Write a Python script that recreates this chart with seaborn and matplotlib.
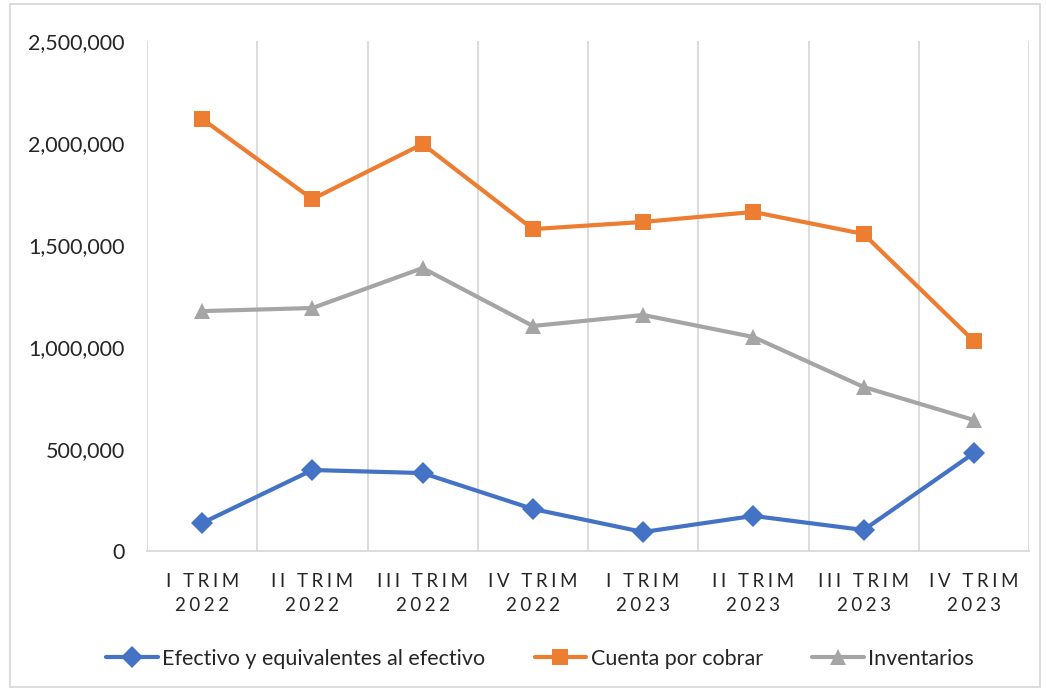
import numpy as np
import pandas as pd
import matplotlib
matplotlib.use("Agg")
import matplotlib.pyplot as plt
import seaborn as sns
from matplotlib.ticker import FuncFormatter

categories = ["I TRIM\n2022", "II TRIM\n2022", "III TRIM\n2022", "IV TRIM\n2022",
              "I TRIM\n2023", "II TRIM\n2023", "III TRIM\n2023", "IV TRIM\n2023"]
efectivo = [137000, 397000, 382000, 206000, 93000, 172000, 103000, 480000]
cuentas = [2118000, 1725000, 1995000, 1578000, 1613000, 1662000, 1554000, 1029000]
inventarios = [1176000, 1191000, 1387000, 1103000, 1157000, 1049000, 804000, 642000]
series_names = ["Efectivo y equivalentes al efectivo", "Cuenta por cobrar", "Inventarios"]
colors = ["#4472C4", "#ED7D31", "#A5A5A5"]
markers = ["D", "s", "^"]

sns.set_theme(style="white")
plt.rcParams['font.family'] = ['Lato', 'DejaVu Sans']

rows = []
for name, vals in zip(series_names, [efectivo, cuentas, inventarios]):
    for i, v in enumerate(vals):
        rows.append({"pos": i, "value": v, "serie": name})
df = pd.DataFrame(rows)

fig = plt.figure(figsize=(10.46, 6.91), dpi=100)
ax = fig.add_axes([147/1046, 1-551/691, (1029-147)/1046, (551-41)/691])

sns.lineplot(data=df, x="pos", y="value", hue="serie", style="serie",
             hue_order=series_names, style_order=series_names,
             palette=colors, markers=markers, dashes=False,
             linewidth=3, markersize=11, markeredgewidth=0, ax=ax, sort=False)

ax.set_xlim(-0.5, len(categories) - 0.5)
ax.set_ylim(0, 2500000)
ax.set_yticks(np.arange(0, 2500001, 500000))
ax.yaxis.set_major_formatter(FuncFormatter(lambda v, p: f"{int(v):,}"))

def spaced(lbl):
    return "\n".join("\u2009\u200a".join(list(line)) for line in lbl.split("\n"))

ax.set_xticks(range(len(categories)))
ax.set_xticklabels([spaced(c) for c in categories], fontsize=13.5, linespacing=1.45)
ax.set_xticks(np.arange(-0.5, len(categories)), minor=True)
ax.grid(which="minor", axis="x", color="#D9D9D9", linewidth=1.3)
ax.grid(which="major", visible=False)
ax.tick_params(axis="both", which="both", length=0)
ax.tick_params(axis="y", labelsize=15.5, pad=16)
ax.tick_params(axis="x", pad=16)

for s in ["top", "right", "left"]:
    ax.spines[s].set_visible(False)
ax.spines["bottom"].set_color("#D9D9D9")
ax.spines["bottom"].set_linewidth(1.3)
ax.set_xlabel("")
ax.set_ylabel("")

handles, labels = ax.get_legend_handles_labels()
ax.legend_.remove()
fig.legend(handles, labels, loc="center", bbox_to_anchor=(540/1046, 1-659/691),
           ncol=3, frameon=False, fontsize=15.5, handlelength=2.4,
           columnspacing=2.3, handletextpad=0.2)

border = plt.Rectangle((10/1046, 4/691), 1030/1046, 683/691, transform=fig.transFigure,
                       fill=False, edgecolor="#D9D9D9", linewidth=1.3)
fig.patches.append(border)

fig.savefig("out.png", dpi=100)
